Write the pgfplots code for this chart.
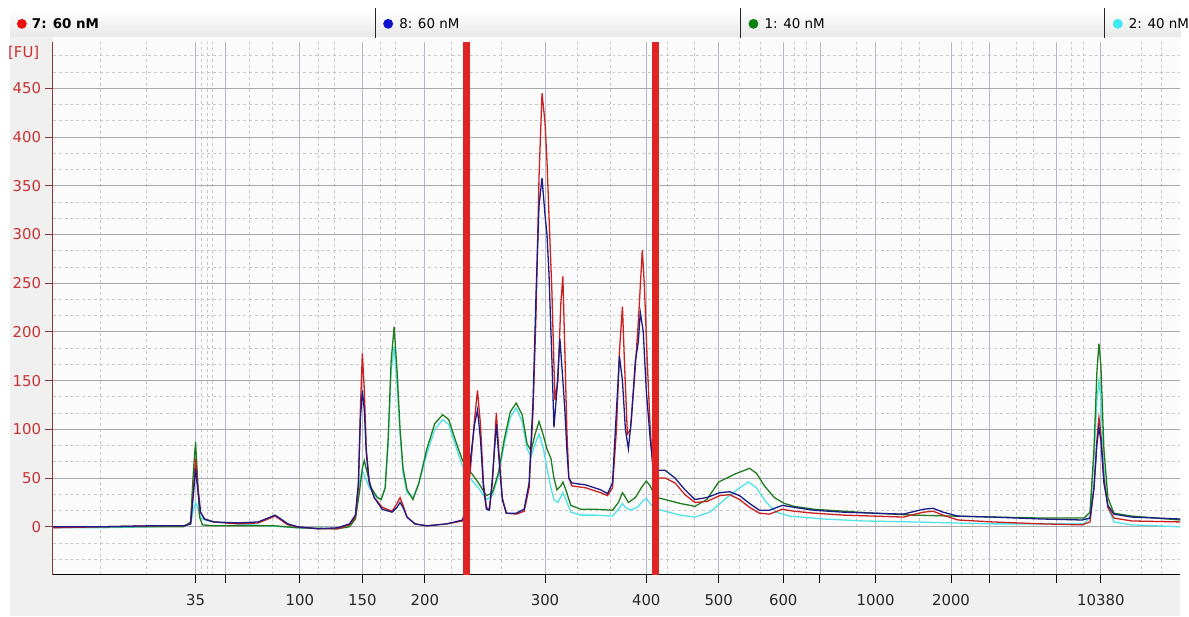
\documentclass[border=0pt]{standalone}
\usepackage{pgfplots}
\pgfplotsset{compat=1.18}
\usepackage{fontspec}
\setmainfont{DejaVu Sans}
\definecolor{bg}{HTML}{F0F0F0}
\definecolor{plotbg}{HTML}{FBFBFB}
\definecolor{gridx}{HTML}{B4B8CA}
\definecolor{gridy}{HTML}{A9A9AC}
\definecolor{gridmin}{HTML}{C8C8C8}
\definecolor{axisred}{HTML}{8B3A3A}
\definecolor{labred}{HTML}{C83232}
\definecolor{sred}{HTML}{CC1F1F}
\definecolor{sblue}{HTML}{1C1C86}
\definecolor{sgreen}{HTML}{1E7B1E}
\definecolor{scyan}{HTML}{4FE3E6}
\definecolor{markred}{HTML}{E02424}
\definecolor{dred}{HTML}{E81010}
\definecolor{dblue}{HTML}{1010D0}
\definecolor{dgreen}{HTML}{108010}
\definecolor{dcyan}{HTML}{40E8F0}

% sample 7 (red)
\pgfplotstableread{
x y
53 -1
100 0
150 1
185 1
192 3
195 40
197 70
199 45
202 15
206 8
215 5
240 3
260 4
270 8
277 11
283 7
290 2
300 0
320 -2
340 -2
352 2
358 10
361 40
363 120
365 178
367 140
369 80
372 45
377 30
385 20
395 16
400 24
403 30
406 22
410 10
418 3
430 1
450 3
466 6
470 20
474 60
478 110
481 140
484 105
487 45
490 20
493 18
496 45
500 117
503 70
506 30
510 14
520 13
528 16
533 40
537 120
540 220
543 360
546 445
549 415
551 375
553 320
556 240
559 130
562 150
565 230
567 257
569 180
571 100
573 50
576 42
590 40
605 35
612 32
617 40
621 100
624 180
627 226
629 170
632 95
635 100
639 150
643 210
647 284
649 250
652 170
655 100
658 55
662 50
670 50
680 45
690 33
700 25
712 26
725 32
735 33
745 28
755 20
765 14
775 13
788 18
800 16
820 14
850 12
880 11
910 10
930 15
940 16
950 12
965 7
1000 5
1050 3
1090 2
1098 5
1102 40
1105 90
1107 112
1109 95
1112 50
1116 20
1122 9
1140 6
1189 5
}\sred

% sample 8 (blue)
\pgfplotstableread{
x y
53 0
100 0
150 1
185 1
192 3
195 35
197 60
199 40
202 15
206 8
215 5
240 4
260 5
270 9
277 12
283 8
290 3
300 0
320 -2
340 -1
352 3
358 12
361 45
363 110
365 140
367 120
369 75
372 45
377 30
385 18
395 15
400 20
403 25
406 20
410 10
418 3
430 1
450 3
466 7
470 25
474 70
478 105
481 120
484 90
487 40
490 18
493 17
496 50
500 105
503 65
506 28
510 14
520 14
528 18
533 45
537 130
540 240
543 330
546 358
549 320
551 300
553 260
556 170
558 102
561 140
564 193
567 150
569 120
571 80
573 50
576 45
590 43
605 38
612 34
617 45
621 120
624 175
627 150
630 100
633 80
636 110
640 170
643 190
645 220
648 200
651 140
655 90
658 60
662 58
670 58
680 50
690 38
700 28
712 30
725 35
735 36
745 32
755 24
765 17
775 17
788 22
800 20
820 17
850 15
880 14
910 13
930 18
940 19
950 15
965 11
1000 10
1050 8
1090 7
1098 9
1102 40
1105 85
1107 102
1109 88
1112 45
1116 22
1122 13
1140 10
1189 8
}\sblue

% sample 1 (green)
\pgfplotstableread{
x y
53 0
100 0
150 0
185 0
192 5
195 60
197 87
199 50
201 10
204 2
215 1
240 1
277 1
300 -1
340 -2
352 0
358 8
362 35
365 60
367 68
370 55
374 40
380 30
384 28
388 40
391 90
394 170
397 205
400 160
403 100
406 60
410 38
416 28
422 45
430 80
438 106
446 115
452 110
460 85
466 68
470 60
475 55
482 45
490 32
496 35
502 55
508 90
514 118
520 127
526 115
531 85
535 78
539 95
543 108
547 95
551 80
555 70
558 50
561 38
565 42
567 46
570 38
575 22
585 18
600 18
617 17
623 25
627 35
629 32
633 25
640 30
646 40
651 47
655 42
658 35
662 30
670 28
685 24
700 21
712 28
724 46
740 54
755 60
762 55
770 42
780 30
790 24
800 21
820 18
850 16
880 14
920 12
960 11
1000 10
1050 9
1092 9
1098 15
1102 80
1105 160
1107 188
1109 165
1112 80
1116 30
1122 14
1140 11
1189 7
}\sgreen

% sample 2 (cyan)
\pgfplotstableread{
x y
53 -1
100 -1
150 0
185 1
192 3
195 18
197 25
199 20
202 10
206 7
215 5
240 3
270 1
300 -1
340 -2
352 1
358 10
362 45
365 58
368 50
372 40
378 32
384 28
388 40
391 85
394 160
397 185
400 145
403 95
406 55
410 35
416 30
422 45
430 75
438 100
446 110
452 105
460 80
466 62
470 55
475 48
482 40
490 28
496 32
502 52
508 85
514 112
520 122
526 108
531 80
535 72
539 85
543 95
547 82
551 60
555 40
558 28
562 25
567 35
570 28
575 15
585 12
600 12
617 11
623 18
627 24
630 20
635 17
642 20
648 27
651 29
655 24
658 20
662 18
670 16
685 12
700 10
715 15
730 28
745 40
754 46
762 40
772 25
782 15
795 11
830 8
870 6
920 5
1000 3
1050 3
1092 3
1098 10
1102 70
1105 130
1107 150
1109 130
1112 60
1116 20
1122 5
1140 2
1189 0
}\scyan

\begin{document}
\begin{tikzpicture}[x=1pt,y=1pt]
\fill[white] (0,0) rectangle (1189,621);
\fill[bg] (10,0) rectangle (1189,611);
\shade[top color=white,bottom color=black!9] (10,584) rectangle (1189,611);
\fill[plotbg] (53,578) rectangle (1189,584);
\foreach \sx in {378,746,1113} \draw[black!85,line width=1.2pt] (\sx,583) -- (\sx,613);
\fill[dred] (22,597) circle (5);
\node[anchor=west,inner sep=0pt,font=\fontsize{13.5}{16}\selectfont\bfseries] at (32,597) {7: 60 nM};
\fill[dblue] (391,597) circle (5);
\node[anchor=west,inner sep=0pt,font=\fontsize{13.5}{16}\selectfont] at (402,597) {8: 60 nM};
\fill[dgreen] (759,597) circle (5);
\node[anchor=west,inner sep=0pt,font=\fontsize{13.5}{16}\selectfont] at (770,597) {1: 40 nM};
\fill[dcyan] (1126,597) circle (5);
\node[anchor=west,inner sep=0pt,font=\fontsize{13.5}{16}\selectfont] at (1137,597) {2: 40 nM};
\node[anchor=west,inner sep=0pt,text=labred,font=\fontsize{15}{18}\selectfont] at (8,568) {[FU]};
\begin{axis}[
  at={(53,43)}, anchor=south west,
  scale only axis, width=1136pt, height=536pt,
  xmin=53, xmax=1189, ymin=-49, ymax=497,
  axis x line=bottom, axis y line=left,
  x axis line style={-,black,line width=1.2pt},
  y axis line style={-,axisred,line width=1.2pt},
  axis background/.style={fill=plotbg},
  xtick={197,227,302,365,428,549,651,724,789,826,882,958,997,1064,1109},
  xticklabels={35,,100,150,200,300,400,500,600,,1000,2000,,,10380},
  ytick={0,50,...,450},
  minor xtick={101,147,203,209,214,251,274,321,337,383,398,455,505,582,615,672,699,745,766,800,812,863,908,926,968,980,1024,1041,1079,1091,1150,1170},
  minor ytick={-33.33,-16.67,16.67,33.33,66.67,83.33,116.67,133.33,166.67,183.33,216.67,233.33,266.67,283.33,316.67,333.33,366.67,383.33,416.67,433.33,466.67,483.33},
  tick align=outside,
  major tick length=8pt, minor tick length=0pt,
  x tick style={black,line width=1pt},
  y tick style={axisred,line width=1pt},
  grid=both,
  major x grid style={solid,gridx,line width=0.9pt},
  major y grid style={solid,gridy,line width=0.9pt},
  minor grid style={dashed,gridmin,line width=0.8pt},
  tick label style={font=\fontsize{15}{18}\selectfont},
  xticklabel style={black!85,yshift=-8pt},
  yticklabel style={labred},
  /pgf/number format/assume math mode=true,
]
\addplot[scyan,line width=1.3pt] table[x=x,y=y] {\scyan};
\addplot[sgreen,line width=1.3pt] table[x=x,y=y] {\sgreen};
\addplot[sred,line width=1.3pt] table[x=x,y=y] {\sred};
\addplot[sblue,line width=1.3pt] table[x=x,y=y] {\sblue};
\addplot[markred,line width=7pt] coordinates {(470,-49) (470,497)};
\addplot[markred,line width=7pt] coordinates {(660,-49) (660,497)};
\end{axis}
\end{tikzpicture}
\end{document}
